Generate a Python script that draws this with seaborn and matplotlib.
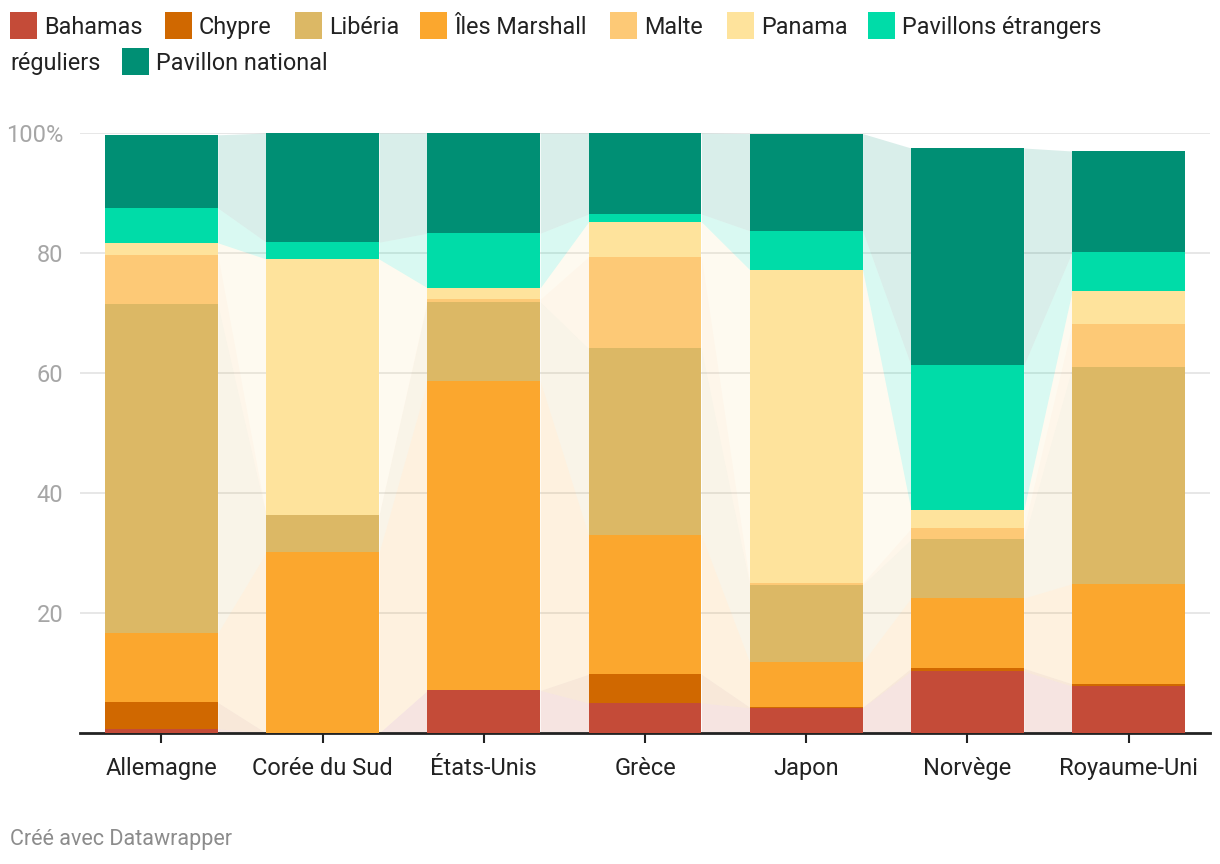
import numpy as np
import pandas as pd
import seaborn as sns
import matplotlib.pyplot as plt
from matplotlib.patches import Rectangle

# Data (percent of fleet by flag)
countries = ["Allemagne", "Corée du Sud", "États-Unis", "Grèce", "Japon", "Norvège", "Royaume-Uni"]

bahamas = [0.7, 0.0, 7.1, 5.0, 4.2, 10.3, 7.8]
chypre = [4.4, 0.0, 0.0, 4.8, 0.1, 0.5, 0.4]
marshall = [11.6, 30.1, 51.6, 23.2, 7.5, 11.7, 16.7]
liberia = [54.8, 6.2, 13.2, 31.1, 12.9, 9.8, 36.1]
malte = [8.2, 0.0, 0.4, 15.3, 0.3, 1.8, 7.2]
panama = [2.0, 42.7, 1.9, 5.8, 52.2, 3.1, 5.5]
etrangers = [5.8, 2.8, 9.1, 1.3, 6.5, 24.1, 6.5]
national = [12.2, 18.2, 16.7, 13.5, 16.2, 36.2, 16.8]

# stacking order (bottom -> top)
stack_names = ["Bahamas", "Chypre", "Îles Marshall", "Libéria", "Malte", "Panama",
               "Pavillons étrangers réguliers", "Pavillon national"]
stack_values = [bahamas, chypre, marshall, liberia, malte, panama, etrangers, national]
colors = {
    "Bahamas": "#c44b38",
    "Chypre": "#d06800",
    "Libéria": "#dcb865",
    "Îles Marshall": "#fba72e",
    "Malte": "#fdc976",
    "Panama": "#fee39c",
    "Pavillons étrangers réguliers": "#00dca8",
    "Pavillon national": "#008f74",
}

df = pd.DataFrame(dict(zip(stack_names, stack_values)), index=countries)
tops = df.cumsum(axis=1)
bottoms = tops - df

sns.set_theme(style="white")
plt.rcParams['font.family'] = ['Roboto', 'DejaVu Sans']

fig = plt.figure(figsize=(12.2, 8.64), dpi=100)
ax = fig.add_axes([80 / 1220, 1 - 733 / 864, 1130 / 1220, 600 / 864])

bar_w = 0.70
x = np.arange(len(countries))

# bars: draw cumulative totals from top layer down so each covers the one above
for name in reversed(stack_names):
    sub = pd.DataFrame({"pays": countries, "val": tops[name].values})
    sns.barplot(data=sub, x="pays", y="val", order=countries, color=colors[name],
                saturation=1, width=bar_w, linewidth=0, zorder=3, ax=ax)

# translucent bands linking the bars
for i in range(len(countries) - 1):
    xs = [x[i] + bar_w / 2, x[i + 1] - bar_w / 2]
    for name in stack_names:
        ax.fill_between(xs, [bottoms[name].iloc[i], bottoms[name].iloc[i + 1]],
                        [tops[name].iloc[i], tops[name].iloc[i + 1]],
                        color=colors[name], alpha=0.15, linewidth=0, zorder=1)

ax.set_xlim(-0.505, 6.505)
ax.set_ylim(0, 100)
ax.set_xlabel("")
ax.set_ylabel("")
ax.set_yticks([20, 40, 60, 80, 100])
ax.set_yticklabels(["20", "40", "60", "80", "100%"])
ax.yaxis.grid(True, color="#e3e3e3", linewidth=1.2, zorder=0)
ax.set_axisbelow(True)
for side in ["top", "right", "left"]:
    ax.spines[side].set_visible(False)
ax.spines["bottom"].set_color("#222222")
ax.spines["bottom"].set_linewidth(2)
ax.tick_params(axis="y", length=0, pad=12, labelsize=17, labelcolor="#a6a6a6")
ax.tick_params(axis="x", length=7, width=1.5, color="#222222", pad=10,
               labelsize=17, labelcolor="#222222", bottom=True)

# legend (manual, wrapped like the original)
legend_items = [
    ("Bahamas", 10, 26), ("Chypre", 165, 26), ("Libéria", 295, 26),
    ("Îles Marshall", 420, 26), ("Malte", 610, 26), ("Panama", 727, 26),
    ("Pavillons étrangers réguliers", 868, 26), ("Pavillon national", 122, 62),
]
for name, px, py in legend_items:
    fig.add_artist(Rectangle((px / 1220, 1 - (py + 13) / 864), 27 / 1220, 27 / 864,
                             transform=fig.transFigure, color=colors[name], lw=0))
    label = "Pavillons étrangers" if name.startswith("Pavillons") else name
    fig.text((px + 34) / 1220, 1 - (py + 1.5) / 864, label, fontsize=16.8,
             color="#222222", va="center", ha="left")
fig.text(10 / 1220, 1 - 63.5 / 864, "réguliers", fontsize=16.8, color="#222222",
         va="center", ha="left")

fig.text(10 / 1220, 1 - 840 / 864, "Créé avec Datawrapper", fontsize=15.5,
         color="#8c8c8c", va="center", ha="left")

fig.savefig("out.png", dpi=100)
